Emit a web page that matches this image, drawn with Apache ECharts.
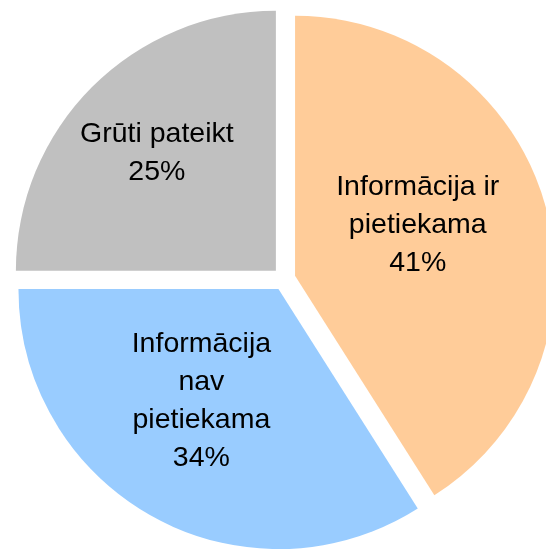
<!DOCTYPE html>
<html>
<head>
<meta charset="utf-8">
<script src="https://cdn.jsdelivr.net/npm/echarts@6/dist/echarts.min.js"></script>
<style>
  html, body { margin: 0; padding: 0; background: #fff; }
  #chart { width: 546px; height: 554px; }
</style>
</head>
<body>
<div id="chart"></div>
<script>
// slices, clockwise from the top
const names = ['Informācija ir\npietiekama', 'Informācija\nnav\npietiekama', 'Grūti pateikt']
const values = [41, 34, 25]
const colors = ['#FFCC99', '#99CCFF', '#C0C0C0']

// nudge of each inside label from the slice midpoint (px)
const labelShift = [[-5, -14], [-13, -4], [-25, -24]]

const chart = echarts.init(document.getElementById('chart'))
chart.setOption({
  animation: false,
  series: [{
    type: 'pie',
    center: [284, 279],
    radius: 260,
    startAngle: 90,
    clockwise: true,
    selectedMode: 'multiple',
    selectedOffset: 11.5,
    emphasis: { disabled: true },
    itemStyle: { borderWidth: 0 },
    label: {
      show: true,
      position: 'inside',
      color: '#000',
      fontFamily: 'Liberation Sans, Arial, sans-serif',
      fontSize: 28.5,
      lineHeight: 38,
      align: 'center',
      formatter: p => p.name + '\n' + p.value + '%'
    },
    labelLine: { show: false },
    labelLayout: p => ({ dx: labelShift[p.dataIndex][0], dy: labelShift[p.dataIndex][1] }),
    data: names.map((n, i) => ({
      name: n,
      value: values[i],
      selected: true,
      itemStyle: { color: colors[i] }
    }))
  }]
})
</script>
</body>
</html>
